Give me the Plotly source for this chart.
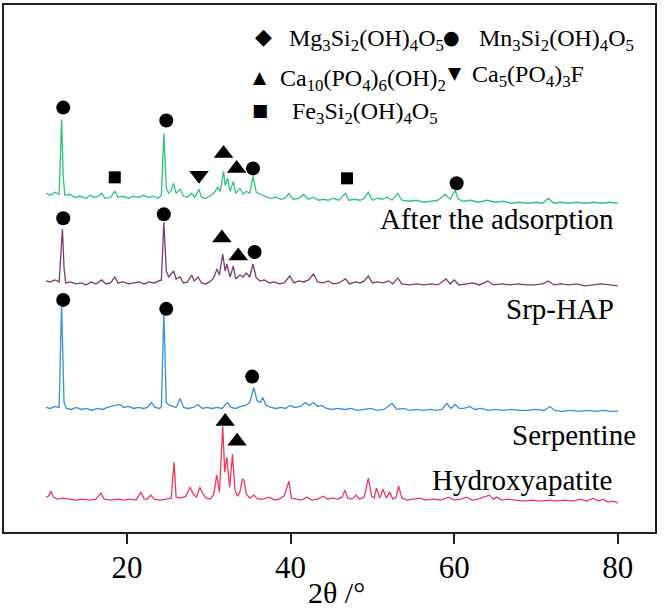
import plotly.graph_objects as go

# ---- data: (2theta, stacked intensity) ----
green_pts = [
    (10.1, 340), (10.6, 338), (11.2, 341), (11.7, 339), (12.0, 414), (12.2, 357), (12.4, 338),
    (13.0, 339), (13.6, 336), (14.3, 337), (15.0, 335), (15.5, 338), (16.0, 336), (16.5, 337),
    (16.9, 340), (17.3, 335), (18.0, 336), (18.5, 342), (18.9, 336), (19.5, 337), (20.2, 335),
    (20.8, 337), (21.5, 336), (22.0, 338), (22.6, 336), (23.2, 337), (23.8, 335), (24.2, 338),
    (24.5, 400), (24.8, 345), (25.1, 340), (25.4, 343), (25.7, 350), (26.0, 340), (26.5, 344),
    (26.9, 337), (27.4, 336), (27.9, 340), (28.3, 336), (28.8, 344), (29.1, 336), (29.6, 335),
    (30.1, 337), (30.6, 340), (31.1, 346), (31.4, 342), (31.8, 362), (32.0, 348), (32.3, 355),
    (32.6, 342), (33.0, 352), (33.3, 340), (33.8, 345), (34.2, 339), (34.6, 342), (35.0, 340),
    (35.4, 357), (35.8, 341), (36.3, 339), (36.8, 337), (37.5, 335), (38.2, 336), (38.8, 334),
    (39.3, 335), (39.8, 340), (40.3, 334), (41.0, 335), (41.6, 339), (42.2, 334), (42.8, 336),
    (43.4, 333), (44.0, 334), (44.6, 333), (45.2, 335), (45.9, 333), (46.7, 340), (47.1, 333),
    (47.8, 334), (48.5, 333), (49.0, 335), (49.5, 341), (50.0, 333), (50.6, 335), (51.2, 334),
    (51.8, 336), (52.4, 333), (53.1, 340), (53.6, 333), (54.5, 332), (55.4, 333), (56.3, 331),
    (57.2, 332), (58.0, 333), (58.9, 339), (59.5, 334), (60.1, 343), (60.5, 334), (61.2, 332),
    (62.0, 333), (63.0, 331), (64.0, 333), (65.0, 331), (66.0, 332), (67.0, 330), (68.0, 331),
    (69.0, 330), (70.0, 331), (70.8, 330), (71.5, 335), (72.2, 330), (73.0, 331), (74.0, 330),
    (75.0, 331), (76.0, 330), (77.0, 331), (78.0, 330), (79.0, 331), (80.0, 330),
]

purple_pts = [
    (10.1, 252), (10.6, 251), (11.2, 253), (11.7, 251), (12.1, 304), (12.3, 265), (12.5, 250),
    (13.1, 251), (13.7, 249), (14.4, 250), (15.0, 248), (15.6, 251), (16.2, 249), (16.9, 253),
    (17.4, 249), (18.0, 250), (18.5, 256), (18.9, 250), (19.5, 251), (20.2, 249), (20.8, 250),
    (21.5, 251), (22.1, 249), (22.7, 251), (23.3, 250), (23.9, 252), (24.2, 253), (24.5, 311),
    (24.8, 262), (25.1, 256), (25.7, 262), (26.0, 254), (26.5, 256), (26.9, 250), (27.4, 251),
    (27.9, 258), (28.2, 252), (28.7, 256), (29.1, 250), (29.6, 249), (30.1, 251), (30.6, 255),
    (31.0, 264), (31.3, 258), (31.7, 279), (32.0, 262), (32.2, 269), (32.6, 256), (33.0, 267),
    (33.3, 254), (33.8, 258), (34.2, 256), (34.6, 260), (35.0, 256), (35.4, 269), (35.8, 255),
    (36.3, 252), (36.8, 253), (37.4, 250), (38.0, 251), (38.6, 249), (39.2, 250), (39.9, 257),
    (40.4, 250), (41.0, 252), (41.6, 251), (42.2, 253), (42.8, 259), (43.3, 251), (44.0, 250),
    (44.6, 252), (45.2, 249), (45.9, 250), (46.7, 254), (47.2, 249), (47.9, 251), (48.5, 250),
    (49.0, 252), (49.5, 257), (50.0, 250), (50.6, 251), (51.3, 250), (52.0, 252), (52.5, 249),
    (53.1, 255), (53.6, 249), (54.5, 248), (55.4, 249), (56.3, 248), (57.2, 249), (58.0, 248),
    (59.0, 254), (59.5, 249), (60.0, 253), (60.6, 248), (61.5, 249), (62.3, 250), (63.1, 248),
    (64.1, 252), (64.8, 248), (65.8, 249), (66.8, 248), (67.8, 249), (68.8, 248), (69.8, 248),
    (70.8, 249), (71.5, 252), (72.2, 248), (73.0, 249), (74.0, 248), (75.0, 249), (76.0, 247),
    (77.0, 248), (78.0, 249), (79.0, 248), (80.0, 247),
]

blue_pts = [
    (10.1, 125), (10.6, 124), (11.2, 126), (11.7, 125), (12.0, 229), (12.3, 130), (12.6, 124),
    (13.2, 123), (13.8, 125), (14.4, 123), (15.0, 124), (15.7, 122), (16.3, 124), (17.0, 123),
    (17.6, 125), (18.2, 126), (18.7, 127), (19.1, 128), (19.6, 125), (20.2, 126), (20.8, 124),
    (21.4, 125), (22.0, 124), (22.5, 125), (23.0, 130), (23.4, 125), (24.0, 124), (24.2, 126),
    (24.5, 220), (24.8, 130), (25.2, 127), (25.6, 126), (26.0, 125), (26.5, 134), (26.9, 125),
    (27.5, 124), (28.1, 125), (28.7, 128), (29.2, 124), (29.8, 125), (30.4, 124), (31.0, 125),
    (31.6, 124), (32.3, 130), (32.7, 125), (33.3, 124), (33.9, 126), (34.5, 127), (35.0, 130),
    (35.5, 145), (35.9, 132), (36.3, 130), (36.6, 135), (37.0, 127), (37.6, 125), (38.2, 124),
    (38.8, 125), (39.4, 124), (39.9, 127), (40.5, 125), (41.2, 126), (41.8, 130), (42.3, 127),
    (42.8, 130), (43.3, 126), (43.8, 127), (44.4, 124), (45.0, 123), (45.8, 124), (46.6, 123),
    (47.4, 124), (48.2, 122), (49.0, 123), (49.8, 124), (50.6, 122), (51.4, 123), (52.4, 129),
    (53.0, 123), (53.8, 124), (54.6, 122), (55.4, 123), (56.2, 122), (57.0, 123), (57.8, 122),
    (58.5, 123), (59.1, 129), (59.6, 124), (60.1, 128), (60.6, 124), (61.2, 124), (61.9, 126),
    (62.5, 123), (63.3, 124), (64.2, 122), (65.0, 123), (66.0, 122), (67.0, 123), (68.0, 122),
    (69.0, 122), (70.0, 123), (71.0, 122), (71.7, 126), (72.3, 122), (73.2, 121), (74.2, 122),
    (75.2, 121), (76.2, 122), (77.2, 121), (78.2, 122), (79.2, 121), (80.0, 121),
]

red_pts = [
    (10.1, 35), (10.4, 36), (10.7, 41), (11.0, 35), (11.5, 33), (12.2, 34), (13.0, 33),
    (13.8, 32), (14.6, 33), (15.4, 32), (16.2, 33), (16.8, 39), (17.2, 33), (18.0, 32),
    (18.8, 33), (19.6, 32), (20.4, 33), (21.1, 32), (21.7, 40), (22.1, 33), (22.5, 33),
    (22.9, 37), (23.3, 33), (24.0, 32), (24.8, 33), (25.4, 34), (25.75, 70), (26.0, 35),
    (26.6, 34), (27.2, 36), (27.7, 45), (28.1, 38), (28.5, 35), (28.9, 45), (29.3, 38),
    (29.7, 34), (30.2, 33), (30.6, 38), (30.97, 57), (31.3, 40), (31.7, 106), (31.95, 60),
    (32.2, 75), (32.55, 45), (32.9, 78), (33.2, 42), (33.5, 36), (33.8, 40), (34.1, 53),
    (34.3, 52), (34.6, 38), (35.0, 34), (35.5, 37), (36.0, 33), (36.6, 33), (37.4, 35),
    (38.0, 32), (38.6, 33), (39.2, 36), (39.8, 51), (40.1, 34), (40.7, 33), (41.4, 32),
    (42.0, 35), (42.6, 32), (43.3, 33), (44.0, 36), (44.5, 33), (45.2, 34), (45.8, 33),
    (46.3, 35), (46.65, 42), (47.0, 34), (47.5, 33), (48.0, 37), (48.4, 33), (49.0, 35),
    (49.5, 54), (49.9, 36), (50.2, 34), (50.5, 44), (50.9, 34), (51.3, 43), (51.7, 34),
    (52.1, 40), (52.5, 33), (52.9, 35), (53.2, 46), (53.6, 34), (54.2, 32), (55.0, 33),
    (55.8, 34), (56.5, 32), (57.5, 33), (58.4, 32), (59.3, 35), (60.0, 32), (60.8, 33),
    (61.5, 35), (62.2, 32), (62.9, 33), (63.5, 35), (64.3, 37), (64.8, 33), (65.2, 35),
    (65.8, 32), (66.6, 33), (67.5, 32), (68.5, 31), (69.5, 32), (70.5, 31), (71.7, 32),
    (72.5, 31), (73.5, 32), (74.5, 31), (75.4, 33), (76.2, 31), (77.0, 34), (77.6, 31),
    (78.2, 33), (78.8, 30), (79.5, 31), (80.0, 29),
]

# phase marks above the peaks: (2theta, height, phase)
green_marks = [(12.2, 426, "Mn"), (18.5, 356, "Fe"), (24.8, 413, "Mn"), (28.8, 358, "F"),
               (31.8, 380, "HAP"), (33.4, 365, "HAP"), (35.4, 365, "Mn"), (46.9, 355, "Fe"),
               (60.3, 350, "Mn")]
purple_marks = [(12.2, 315, "Mn"), (24.5, 319, "Mn"), (31.6, 295, "HAP"),
                (33.6, 277, "HAP"), (35.6, 281, "Mn")]
blue_marks = [(12.2, 233, "Mn"), (24.8, 224, "Mn"), (35.3, 156, "Mn")]
red_marks = [(32.0, 111, "HAP"), (33.45, 91, "HAP")]

sample_names = ["After the adsorption", "Srp-HAP", "Serpentine", "Hydroxyapatite"]
phase_names = {
    "Mg": "Mg<sub>3</sub>Si<sub>2</sub>(OH)<sub>4</sub>O<sub>5</sub>",
    "Mn": "Mn<sub>3</sub>Si<sub>2</sub>(OH)<sub>4</sub>O<sub>5</sub>",
    "HAP": "Ca<sub>10</sub>(PO<sub>4</sub>)<sub>6</sub>(OH)<sub>2</sub>",
    "F": "Ca<sub>5</sub>(PO<sub>4</sub>)<sub>3</sub>F",
    "Fe": "Fe<sub>3</sub>Si<sub>2</sub>(OH)<sub>4</sub>O<sub>5</sub>",
}
x_ticks = [20, 40, 60, 80]

# ---- styling ----
W, H = 664, 616
L, R, T, B = 4, 9, 3, 84
X0, X1 = 4.96, 84.55
Y0, Y1 = 0, 529
serif = "Liberation Serif"
colors = ["#2bc77b", "#7a3d6f", "#3b8fdc", "#f5365c"]
symbols = {"Mn": "circle", "Fe": "square", "F": "triangle-down", "HAP": "triangle-up", "Mg": "diamond"}
sizes = {"Mn": 14, "Fe": 12, "F": 17, "HAP": 17, "Mg": 11}
glyphs = {"Mn": "●", "Fe": "■", "F": "▼", "HAP": "▲", "Mg": "◆"}
glyph_sizes = {"Mn": 19, "Fe": 17, "F": 17, "HAP": 17, "Mg": 22}


def px_x(px):
    return X0 + (px - L) / (W - L - R) * (X1 - X0)


def px_y(py):
    return Y1 - (py - T) / (H - T - B) * (Y1 - Y0)


fig = go.Figure()
all_pts = [green_pts, purple_pts, blue_pts, red_pts]
all_marks = [green_marks, purple_marks, blue_marks, red_marks]
for pts, marks, c in zip(all_pts, all_marks, colors):
    fig.add_trace(go.Scatter(x=[p[0] for p in pts], y=[p[1] for p in pts], mode="lines",
                             line=dict(color=c, width=1.3), showlegend=False))
    fig.add_trace(go.Scatter(x=[m[0] for m in marks], y=[m[1] for m in marks], mode="markers",
                             marker=dict(symbol=[symbols[m[2]] for m in marks],
                                         size=[sizes[m[2]] for m in marks], color="#000000",
                                         opacity=1, line=dict(width=0)),
                             showlegend=False))

ann = []
# sample labels (right aligned)
label_pos = [(616, 218), (616, 308), (638, 435), (614, 480)]
for name, (px, py) in zip(sample_names, label_pos):
    ann.append(dict(x=px_x(px), y=px_y(py), xref="x", yref="y", text=name, showarrow=False,
                    xanchor="right", yanchor="middle", font=dict(family=serif, size=29, color="black")))

# key of phases
key_pos = {"Mg": (263, 35, 287), "Mn": (451, 35, 477), "HAP": (260, 75, 278),
           "F": (455, 71, 470), "Fe": (260, 108, 290)}
for ph, (gx, gy, tx) in key_pos.items():
    ann.append(dict(x=px_x(gx), y=px_y(gy), xref="x", yref="y", text=glyphs[ph], showarrow=False,
                    xanchor="center", yanchor="middle",
                    font=dict(family="DejaVu Sans", size=glyph_sizes[ph], color="black")))
    ann.append(dict(x=px_x(tx), y=px_y(gy + 3), xref="x", yref="y", text=phase_names[ph],
                    showarrow=False, xanchor="left", yanchor="middle",
                    font=dict(family=serif, size=24, color="black")))

# axis title
ann.append(dict(x=px_x(336), y=(H - B - 593) / (H - T - B), xref="x", yref="paper", text="2θ /°",
                showarrow=False, xanchor="center", yanchor="middle",
                font=dict(family=serif, size=30, color="black")))

fig.update_layout(
    width=W, height=H, margin=dict(l=L, r=R, t=T, b=B),
    paper_bgcolor="white", plot_bgcolor="white",
    font=dict(family=serif, color="black"),
    annotations=ann,
    xaxis=dict(range=[X0, X1], tickvals=x_ticks, ticks="outside", ticklen=10, tickwidth=2,
               tickcolor="#222", showline=True, linecolor="#222", linewidth=2, mirror=True,
               showgrid=False, zeroline=False, ticklabelstandoff=-3,
               tickfont=dict(family=serif, size=31, color="black")),
    yaxis=dict(range=[Y0, Y1], showticklabels=False, ticks="", showline=True, linecolor="#222",
               linewidth=2, mirror=True, showgrid=False, zeroline=False),
)

fig.write_html("out.html", config={"displayModeBar": False},
               post_script="document.body.style.margin='0px';")
